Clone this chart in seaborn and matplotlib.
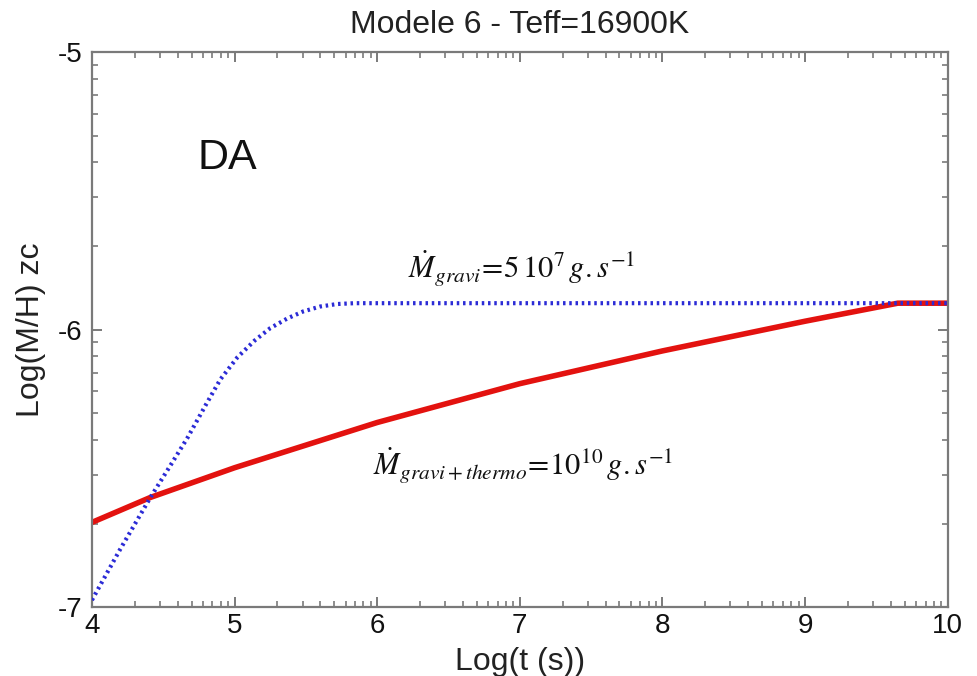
import numpy as np
import pandas as pd
import matplotlib
matplotlib.use("Agg")
import matplotlib.pyplot as plt
import seaborn as sns
from matplotlib.ticker import FixedLocator

# Data
t_gravi = [4.0, 4.2, 4.41, 4.55, 4.67, 4.80, 4.90, 5.02, 5.14, 5.25, 5.37, 5.48, 5.60, 5.72, 5.84, 7.0, 8.0, 9.0, 10.0]
mh_gravi = [-6.975, -6.79, -6.605, -6.49, -6.39, -6.27, -6.18, -6.10, -6.04, -5.995, -5.96, -5.935, -5.917, -5.908, -5.905,
            -5.905, -5.905, -5.905, -5.905]

t_thermo = [4.0, 4.41, 5.0, 6.0, 7.0, 8.0, 9.0, 9.65, 10.0]
mh_thermo = [-6.695, -6.605, -6.498, -6.335, -6.195, -6.077, -5.97, -5.905, -5.905]

title = "Modele 6 - Teff=16900K"
xlabel = "Log(t (s))"
ylabel = "Log(M/H) zc"
xticks = [4, 5, 6, 7, 8, 9, 10]
yticks = [-7, -6, -5]
label_gravi = r"$\dot{M}_{gravi}\!=\!5\,10^{7}\,g{.}s^{-1}$"
label_thermo = r"$\dot{M}_{gravi+thermo}\!=\!10^{10}\,g{.}s^{-1}$"

sns.set_style("ticks")
plt.rcParams["font.family"] = ["Liberation Sans", "DejaVu Sans"]
plt.rcParams["mathtext.fontset"] = "stix"

df_g = pd.DataFrame({"t": t_gravi, "mh": mh_gravi})
df_t = pd.DataFrame({"t": t_thermo, "mh": mh_thermo})

fig = plt.figure(figsize=(9.78, 6.76), dpi=100)
ax = fig.add_axes([0.094, 0.102, 0.875, 0.821])

sns.lineplot(data=df_t, x="t", y="mh", ax=ax, color="#e3120f", lw=4.0, zorder=2)
sns.lineplot(data=df_g, x="t", y="mh", ax=ax, color="#2b2bd6", lw=3.0,
             linestyle=(0, (0.6, 0.9)), zorder=3, dash_capstyle="butt")

ax.set_xlim(4, 10)
ax.set_ylim(-7, -5)
ax.set_xticks(xticks)
ax.set_yticks(yticks)
ax.set_xticklabels([str(v) for v in xticks])
ax.set_yticklabels([str(v) for v in yticks])

minor = np.log10(np.arange(2, 10))
ax.xaxis.set_minor_locator(FixedLocator([b + m for b in range(4, 10) for m in minor]))
ax.yaxis.set_minor_locator(FixedLocator([b + m for b in (-7, -6) for m in minor]))

for s in ax.spines.values():
    s.set_color("#7a7a7a")
    s.set_linewidth(1.6)
ax.tick_params(which="both", direction="in", top=True, right=True, color="#7a7a7a")
ax.tick_params(which="major", length=7, width=1.4, labelsize=20, labelcolor="#111111")
ax.tick_params(axis="x", which="major", pad=4)
ax.tick_params(axis="y", which="major", pad=7)
ax.tick_params(which="minor", length=4, width=1.2)

ax.set_title(title, fontsize=23, pad=14, color="#222222")
ax.set_xlabel(xlabel, fontsize=23, labelpad=6, color="#222222")
ax.set_ylabel(ylabel, fontsize=23, labelpad=8, color="#222222")

ax.text(4.95, -5.38, "DA", fontsize=31, ha="center", va="center", color="#111111")
ax.text(7.01, -5.78, label_gravi, fontsize=22, ha="center", va="center", color="#111111")
ax.text(7.02, -6.49, label_thermo, fontsize=22, ha="center", va="center", color="#111111")

fig.savefig("out.png", dpi=100)
